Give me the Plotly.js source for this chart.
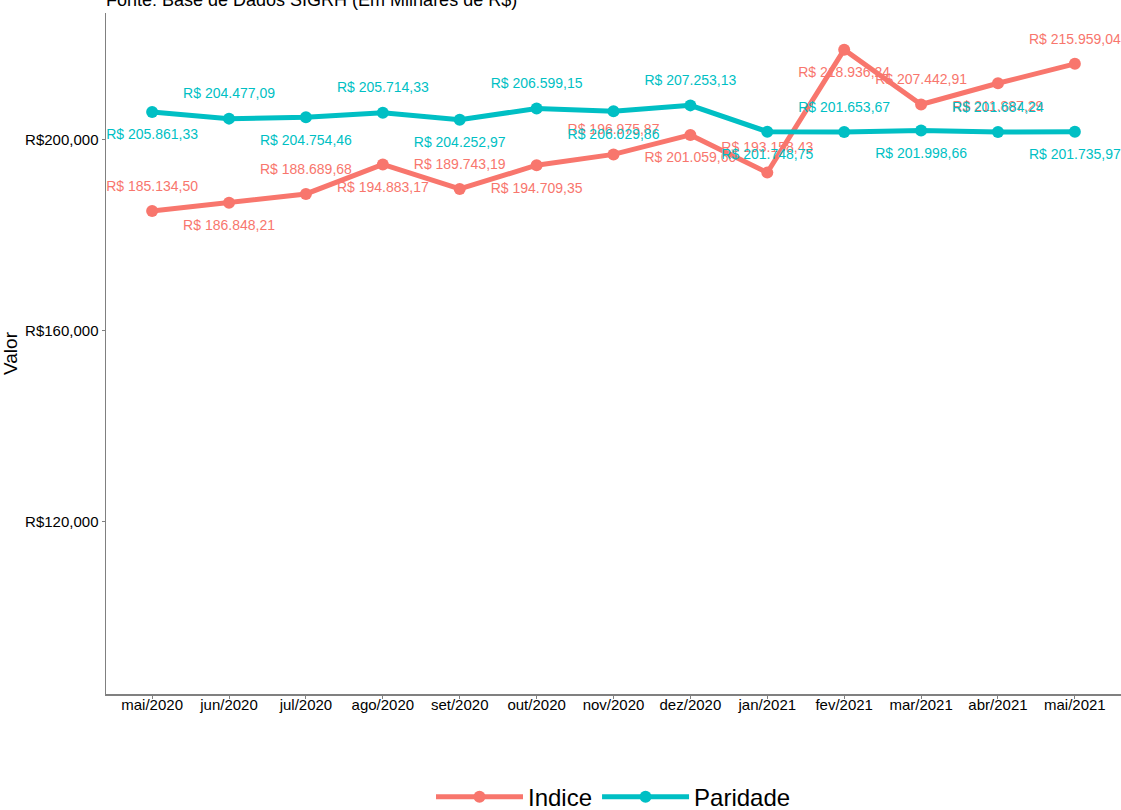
<!DOCTYPE html>
<html>
<head>
<meta charset="utf-8">
<script src="https://cdn.plot.ly/plotly-3.0.1.min.js"></script>
<style>html,body{margin:0;padding:0;background:#fff;}#chart{width:1121px;height:810px;}</style>
</head>
<body>
<div id="chart"></div>
<script>
const months = ["mai/2020","jun/2020","jul/2020","ago/2020","set/2020","out/2020","nov/2020","dez/2020","jan/2021","fev/2021","mar/2021","abr/2021","mai/2021"];
const indice = [185134.50,186848.21,188689.68,194883.17,189743.19,194709.35,196975.87,201059.60,193158.43,218936.24,207442.91,211887.29,215959.04];
const paridade = [205861.33,204477.09,204754.46,205714.33,204252.97,206599.15,206029.86,207253.13,201748.75,201653.67,201998.66,201684.24,201735.97];
const yTicks = [120000,160000,200000];
const yTickText = ["R$120,000","R$160,000","R$200,000"];

const RED = "#F8766D", CYAN = "#00BFC4";
const NUDGE = 5000;

function fmtBR(v){
  const parts = v.toFixed(2).split(".");
  const intPart = parts[0].replace(/\B(?=(\d{3})+(?!\d))/g, ".");
  return "R$ " + intPart + "," + parts[1];
}

const font = "Liberation Sans, Arial, sans-serif";

const traces = [
  {x: months, y: indice, name: "Indice", mode: "lines+markers", type: "scatter",
   line: {color: RED, width: 5}, marker: {color: RED, size: 12}, hoverinfo: "skip"},
  {x: months, y: paridade, name: "Paridade", mode: "lines+markers", type: "scatter",
   line: {color: CYAN, width: 5}, marker: {color: CYAN, size: 12}, hoverinfo: "skip"},
  {x: months, y: indice.map((v,i) => v + (i % 2 === 0 ? NUDGE : -NUDGE)),
   text: indice.map(fmtBR), mode: "text", type: "scatter", showlegend: false,
   textfont: {color: RED, size: 14, family: font}, textposition: "middle center",
   cliponaxis: false, hoverinfo: "skip"},
  {x: months, y: paridade.map((v,i) => v + (i % 2 === 0 ? -NUDGE : NUDGE)),
   text: paridade.map(fmtBR), mode: "text", type: "scatter", showlegend: false,
   textfont: {color: CYAN, size: 14, family: font}, textposition: "middle center",
   cliponaxis: false, hoverinfo: "skip"}
];

const layout = {
  width: 1121, height: 810,
  margin: {l: 106, r: 0, t: 13, b: 116},
  paper_bgcolor: "#fff", plot_bgcolor: "#fff",
  font: {family: font, color: "#1a1a1a"},
  showlegend: true,
  xaxis: {
    type: "category", range: [-0.6, 12.6], showgrid: false, zeroline: false,
    showline: true, linecolor: "#808080", linewidth: 1.5,
    ticks: "outside", ticklen: 3, tickcolor: "#808080", ticklabelstandoff: -7,
    tickfont: {size: 15, color: "#000"}, fixedrange: true
  },
  yaxis: {
    range: [83860, 226620], showgrid: false, zeroline: false,
    showline: true, linecolor: "#808080", linewidth: 1.5,
    ticks: "outside", ticklen: 3, tickcolor: "#808080",
    tickmode: "array", tickvals: yTicks, ticktext: yTickText,
    tickfont: {size: 15, color: "#000"},
    title: {text: "Valor", font: {size: 19, color: "#000"}, standoff: 4}
  },
  legend: {
    orientation: "h", x: 0.5, xanchor: "center",
    yref: "container", y: 0.016, yanchor: "middle",
    font: {size: 24, color: "#000"}, itemwidth: 87, bgcolor: "rgba(0,0,0,0)"
  },
  annotations: [{
    text: "Fonte: Base de Dados SIGRH (Em Milhares de R$)",
    xref: "paper", yref: "paper", x: 0, y: 1, xanchor: "left", yanchor: "bottom",
    showarrow: false, font: {size: 18, color: "#000"}, yshift: 1, xshift: -2
  }]
};

Plotly.newPlot("chart", traces, layout, {staticPlot: true, displayModeBar: false});
</script>
</body>
</html>
